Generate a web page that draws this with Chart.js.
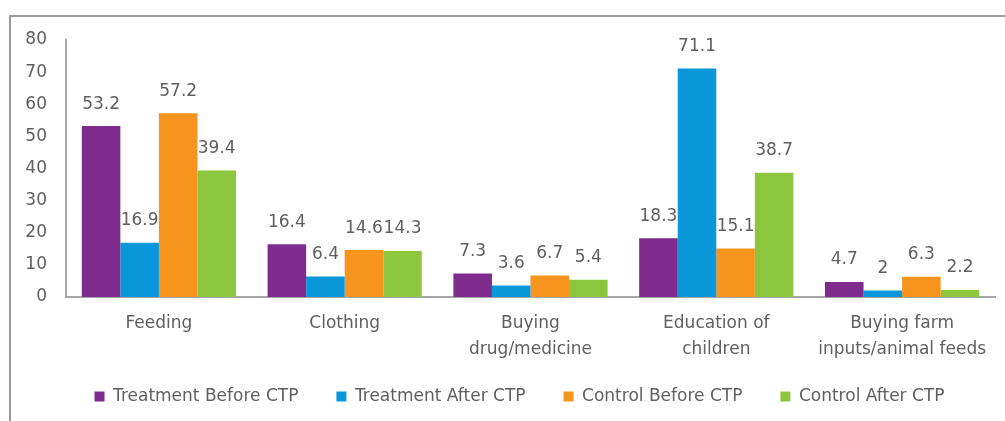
<!DOCTYPE html>
<html>
<head>
<meta charset="utf-8">
<script src="https://cdn.jsdelivr.net/npm/chart.js@4/dist/chart.umd.min.js"></script>
<style>
  html, body { margin: 0; padding: 0; background: #ffffff; }
  #wrap { position: relative; width: 1005px; height: 421px; overflow: hidden; }
  #frame { position: absolute; left: 9px; top: 15px; width: 1100px; height: 500px;
           border-left: 2px solid #9a9a9a; border-top: 2px solid #9a9a9a; box-sizing: border-box; }
  #chart { position: absolute; left: 0; top: 0; }
</style>
</head>
<body>
<div id="wrap">
  <div id="frame"></div>
  <canvas id="chart" width="1005" height="421"></canvas>
</div>
<script>
// Spending categories (multi-line labels)
const categories = [
  ['Feeding'],
  ['Clothing'],
  ['Buying', 'drug/medicine'],
  ['Education of', 'children'],
  ['Buying farm', 'inputs/animal feeds']
];

// Percentages per group
const treatmentBefore = [53.2, 16.4, 7.3, 18.3, 4.7];
const treatmentAfter  = [16.9, 6.4, 3.6, 71.1, 2];
const controlBefore   = [57.2, 14.6, 6.7, 15.1, 6.3];
const controlAfter    = [39.4, 14.3, 5.4, 38.7, 2.2];

const seriesNames = ['Treatment Before CTP', 'Treatment After CTP', 'Control Before CTP', 'Control After CTP'];
const seriesColors = ['#7F2A8D', '#0A97D9', '#F7941D', '#8CC63F'];

const FONT = 'DejaVu Sans';
const SIZE = 17;
const TEXT = '#5f5f5f';

// Writes each bar's value just above its top
const valueLabels = {
  id: 'valueLabels',
  afterDatasetsDraw(chart) {
    const ctx = chart.ctx;
    ctx.save();
    ctx.font = SIZE + 'px "' + FONT + '"';
    ctx.fillStyle = TEXT;
    ctx.textAlign = 'center';
    ctx.textBaseline = 'middle';
    chart.data.datasets.forEach((ds, i) => {
      const meta = chart.getDatasetMeta(i);
      meta.data.forEach((bar, j) => {
        ctx.fillText(String(ds.data[j]), bar.x, bar.y - 22);
      });
    });
    ctx.restore();
  }
};

// Nudges the legend row a little right and up
const legendShift = {
  id: 'legendShift',
  afterLayout(chart) {
    const lg = chart.legend;
    lg.left += 17; lg.right += 17;
    lg.top -= 26; lg.bottom -= 26;
  }
};

const allSeries = [treatmentBefore, treatmentAfter, controlBefore, controlAfter];

new Chart(document.getElementById('chart'), {
  type: 'bar',
  data: {
    labels: categories,
    datasets: allSeries.map((d, i) => ({
      label: seriesNames[i],
      data: d,
      backgroundColor: seriesColors[i],
      borderWidth: 0,
      barPercentage: 1,
      categoryPercentage: 0.83
    }))
  },
  options: {
    responsive: false,
    animation: false,
    layout: { padding: { left: 10, top: 40, right: 10, bottom: -20 } },
    plugins: {
      tooltip: { enabled: false },
      legend: {
        position: 'bottom',
        labels: {
          boxWidth: 10,
          boxHeight: 10,
          padding: 38,
          color: TEXT,
          font: { family: FONT, size: SIZE }
        }
      }
    },
    scales: {
      x: {
        grid: { display: false, drawTicks: false },
        border: { display: true, color: '#a6a6a6', width: 2 },
        ticks: {
          color: TEXT,
          padding: 14,
          maxRotation: 0,
          autoSkip: false,
          font: { family: FONT, size: SIZE, lineHeight: 1.5 }
        }
      },
      y: {
        min: 0,
        max: 80,
        afterFit(axis) { axis.width = 56; },
        grid: { display: false, drawTicks: false },
        border: { display: true, color: '#a6a6a6', width: 2 },
        ticks: {
          stepSize: 10,
          color: TEXT,
          padding: 19,
          font: { family: FONT, size: SIZE }
        }
      }
    }
  },
  plugins: [valueLabels, legendShift]
});
</script>
</body>
</html>
